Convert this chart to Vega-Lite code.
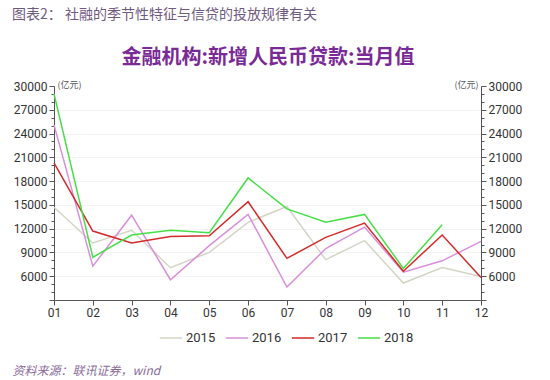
{
  "$schema": "https://vega.github.io/schema/vega-lite/v6.json",
  "width": 427,
  "height": 214,
  "autosize": "none",
  "padding": {"left": 54, "top": 86, "right": 69, "bottom": 80},
  "background": "white",
  "title": {
    "text": "图表2：  社融的季节性特征与信贷的投放规律有关",
    "anchor": "start",
    "frame": "group",
    "dx": -42,
    "font": "Noto Sans CJK SC",
    "fontSize": 14,
    "fontWeight": "normal",
    "color": "#6f5a80",
    "offset": 25
  },
  "config": {
    "view": {"stroke": null},
    "axis": {"labelFont": "Roboto, sans-serif", "titleFont": "Noto Sans CJK SC"}
  },
  "data": {
    "values": [
      {"month": "01", "year": "2015", "value": 14700},
      {"month": "02", "year": "2015", "value": 10200},
      {"month": "03", "year": "2015", "value": 11800},
      {"month": "04", "year": "2015", "value": 7079},
      {"month": "05", "year": "2015", "value": 9008},
      {"month": "06", "year": "2015", "value": 12800},
      {"month": "07", "year": "2015", "value": 14800},
      {"month": "08", "year": "2015", "value": 8096},
      {"month": "09", "year": "2015", "value": 10500},
      {"month": "10", "year": "2015", "value": 5136},
      {"month": "11", "year": "2015", "value": 7089},
      {"month": "12", "year": "2015", "value": 5978},
      {"month": "01", "year": "2016", "value": 25100},
      {"month": "02", "year": "2016", "value": 7266},
      {"month": "03", "year": "2016", "value": 13700},
      {"month": "04", "year": "2016", "value": 5556},
      {"month": "05", "year": "2016", "value": 9855},
      {"month": "06", "year": "2016", "value": 13800},
      {"month": "07", "year": "2016", "value": 4636},
      {"month": "08", "year": "2016", "value": 9487},
      {"month": "09", "year": "2016", "value": 12200},
      {"month": "10", "year": "2016", "value": 6513},
      {"month": "11", "year": "2016", "value": 7946},
      {"month": "12", "year": "2016", "value": 10400},
      {"month": "01", "year": "2017", "value": 20300},
      {"month": "02", "year": "2017", "value": 11700},
      {"month": "03", "year": "2017", "value": 10200},
      {"month": "04", "year": "2017", "value": 11000},
      {"month": "05", "year": "2017", "value": 11100},
      {"month": "06", "year": "2017", "value": 15400},
      {"month": "07", "year": "2017", "value": 8255},
      {"month": "08", "year": "2017", "value": 10900},
      {"month": "09", "year": "2017", "value": 12700},
      {"month": "10", "year": "2017", "value": 6632},
      {"month": "11", "year": "2017", "value": 11200},
      {"month": "12", "year": "2017", "value": 5844},
      {"month": "01", "year": "2018", "value": 29000},
      {"month": "02", "year": "2018", "value": 8393},
      {"month": "03", "year": "2018", "value": 11200},
      {"month": "04", "year": "2018", "value": 11800},
      {"month": "05", "year": "2018", "value": 11500},
      {"month": "06", "year": "2018", "value": 18400},
      {"month": "07", "year": "2018", "value": 14500},
      {"month": "08", "year": "2018", "value": 12800},
      {"month": "09", "year": "2018", "value": 13800},
      {"month": "10", "year": "2018", "value": 6970},
      {"month": "11", "year": "2018", "value": 12500}
    ]
  },
  "layer": [
    {
      "mark": {"type": "line", "strokeJoin": "miter"},
      "encoding": {
        "x": {
          "field": "month",
          "type": "ordinal",
          "scale": {"type": "point", "padding": 0},
          "axis": {
            "orient": "bottom",
            "title": "资料来源：联讯证券，wind",
            "titleFontStyle": "italic",
            "titleFontWeight": "normal",
            "titleFontSize": 12,
            "titleColor": "#8a6a9a",
            "titleAnchor": "start",
            "titleAlign": "left",
            "titleBaseline": "middle",
            "titleX": -42,
            "titleY": 70,
            "labelAngle": 0,
            "labelFontSize": 12,
            "labelColor": "#333333",
            "labelPadding": 2,
            "tickSize": 5,
            "tickColor": "#555555",
            "domainColor": "#555555",
            "grid": false
          }
        },
        "y": {
          "field": "value",
          "type": "quantitative",
          "scale": {"domain": [3000, 30000], "nice": false, "zero": false},
          "axis": {
            "orient": "left",
            "values": [3000, 4000, 5000, 6000, 7000, 8000, 9000, 10000, 11000, 12000, 13000, 14000, 15000, 16000, 17000, 18000, 19000, 20000, 21000, 22000, 23000, 24000, 25000, 26000, 27000, 28000, 29000, 30000],
            "format": "d",
            "labelExpr": "datum.value >= 6000 && datum.value % 3000 == 0 ? datum.label : ''",
            "labelFontSize": 12,
            "labelColor": "#333333",
            "labelPadding": 2,
            "tickSize": {"condition": {"test": "datum.value % 3000 == 0", "value": 5}, "value": 3},
            "tickColor": "#555555",
            "domainColor": "#555555",
            "grid": true,
            "gridColor": "#f3f3f3",
            "gridOpacity": {"condition": {"test": "datum.value % 3000 == 0 && datum.value > 3000 && datum.value < 30000", "value": 1}, "value": 0},
            "title": "(亿元)",
            "titleAngle": 0,
            "titleAlign": "left",
            "titleBaseline": "middle",
            "titleX": 3,
            "titleY": -2,
            "titleFontSize": 9,
            "titleFontWeight": "normal",
            "titleColor": "#555555"
          }
        },
        "color": {
          "field": "year",
          "type": "nominal",
          "scale": {"domain": ["2015", "2016", "2017", "2018"], "range": ["#d4d4c6", "#d98fd9", "#d42a2a", "#47df47"]},
          "legend": {
            "orient": "none",
            "legendX": 105,
            "legendY": 240,
            "direction": "horizontal",
            "title": null,
            "symbolType": "stroke",
            "symbolSize": 500,
            "symbolStrokeWidth": 2,
            "labelFont": "Roboto, sans-serif",
            "labelFontSize": 13,
            "labelColor": "#333333",
            "labelOffset": 3,
            "columnPadding": 6
          }
        },
        "strokeWidth": {
          "field": "year",
          "type": "nominal",
          "scale": {"domain": ["2015", "2016", "2017", "2018"], "range": [1.5, 1.5, 2.2, 2.2]},
          "legend": null
        }
      }
    },
    {
      "mark": {"type": "line", "strokeOpacity": 0},
      "encoding": {
        "x": {
          "field": "month",
          "type": "ordinal",
          "scale": {"type": "point", "padding": 0},
          "axis": {
            "orient": "top",
            "labels": false,
            "ticks": false,
            "domain": false,
            "grid": false,
            "title": "金融机构:新增人民币贷款:当月值",
            "titleFont": "Noto Sans CJK SC",
            "titleFontSize": 20,
            "titleFontWeight": "bold",
            "titleColor": "#7a2a96",
            "titleBaseline": "alphabetic",
            "titleY": -23
          }
        },
        "y": {
          "field": "value",
          "type": "quantitative",
          "scale": {"domain": [3000, 30000], "nice": false, "zero": false},
          "axis": {
            "orient": "right",
            "values": [3000, 4000, 5000, 6000, 7000, 8000, 9000, 10000, 11000, 12000, 13000, 14000, 15000, 16000, 17000, 18000, 19000, 20000, 21000, 22000, 23000, 24000, 25000, 26000, 27000, 28000, 29000, 30000],
            "format": "d",
            "labelExpr": "datum.value >= 6000 && datum.value % 3000 == 0 ? datum.label : ''",
            "labelFontSize": 12,
            "labelColor": "#333333",
            "labelPadding": 2,
            "tickSize": {"condition": {"test": "datum.value % 3000 == 0", "value": 5}, "value": 3},
            "tickColor": "#555555",
            "domainColor": "#555555",
            "grid": false,
            "title": "(亿元)",
            "titleAngle": 0,
            "titleAlign": "right",
            "titleBaseline": "middle",
            "titleX": -3,
            "titleY": -2,
            "titleFontSize": 9,
            "titleFontWeight": "normal",
            "titleColor": "#555555"
          }
        },
        "detail": {"field": "year", "type": "nominal"}
      }
    }
  ],
  "resolve": {"axis": {"x": "independent", "y": "independent"}}
}
